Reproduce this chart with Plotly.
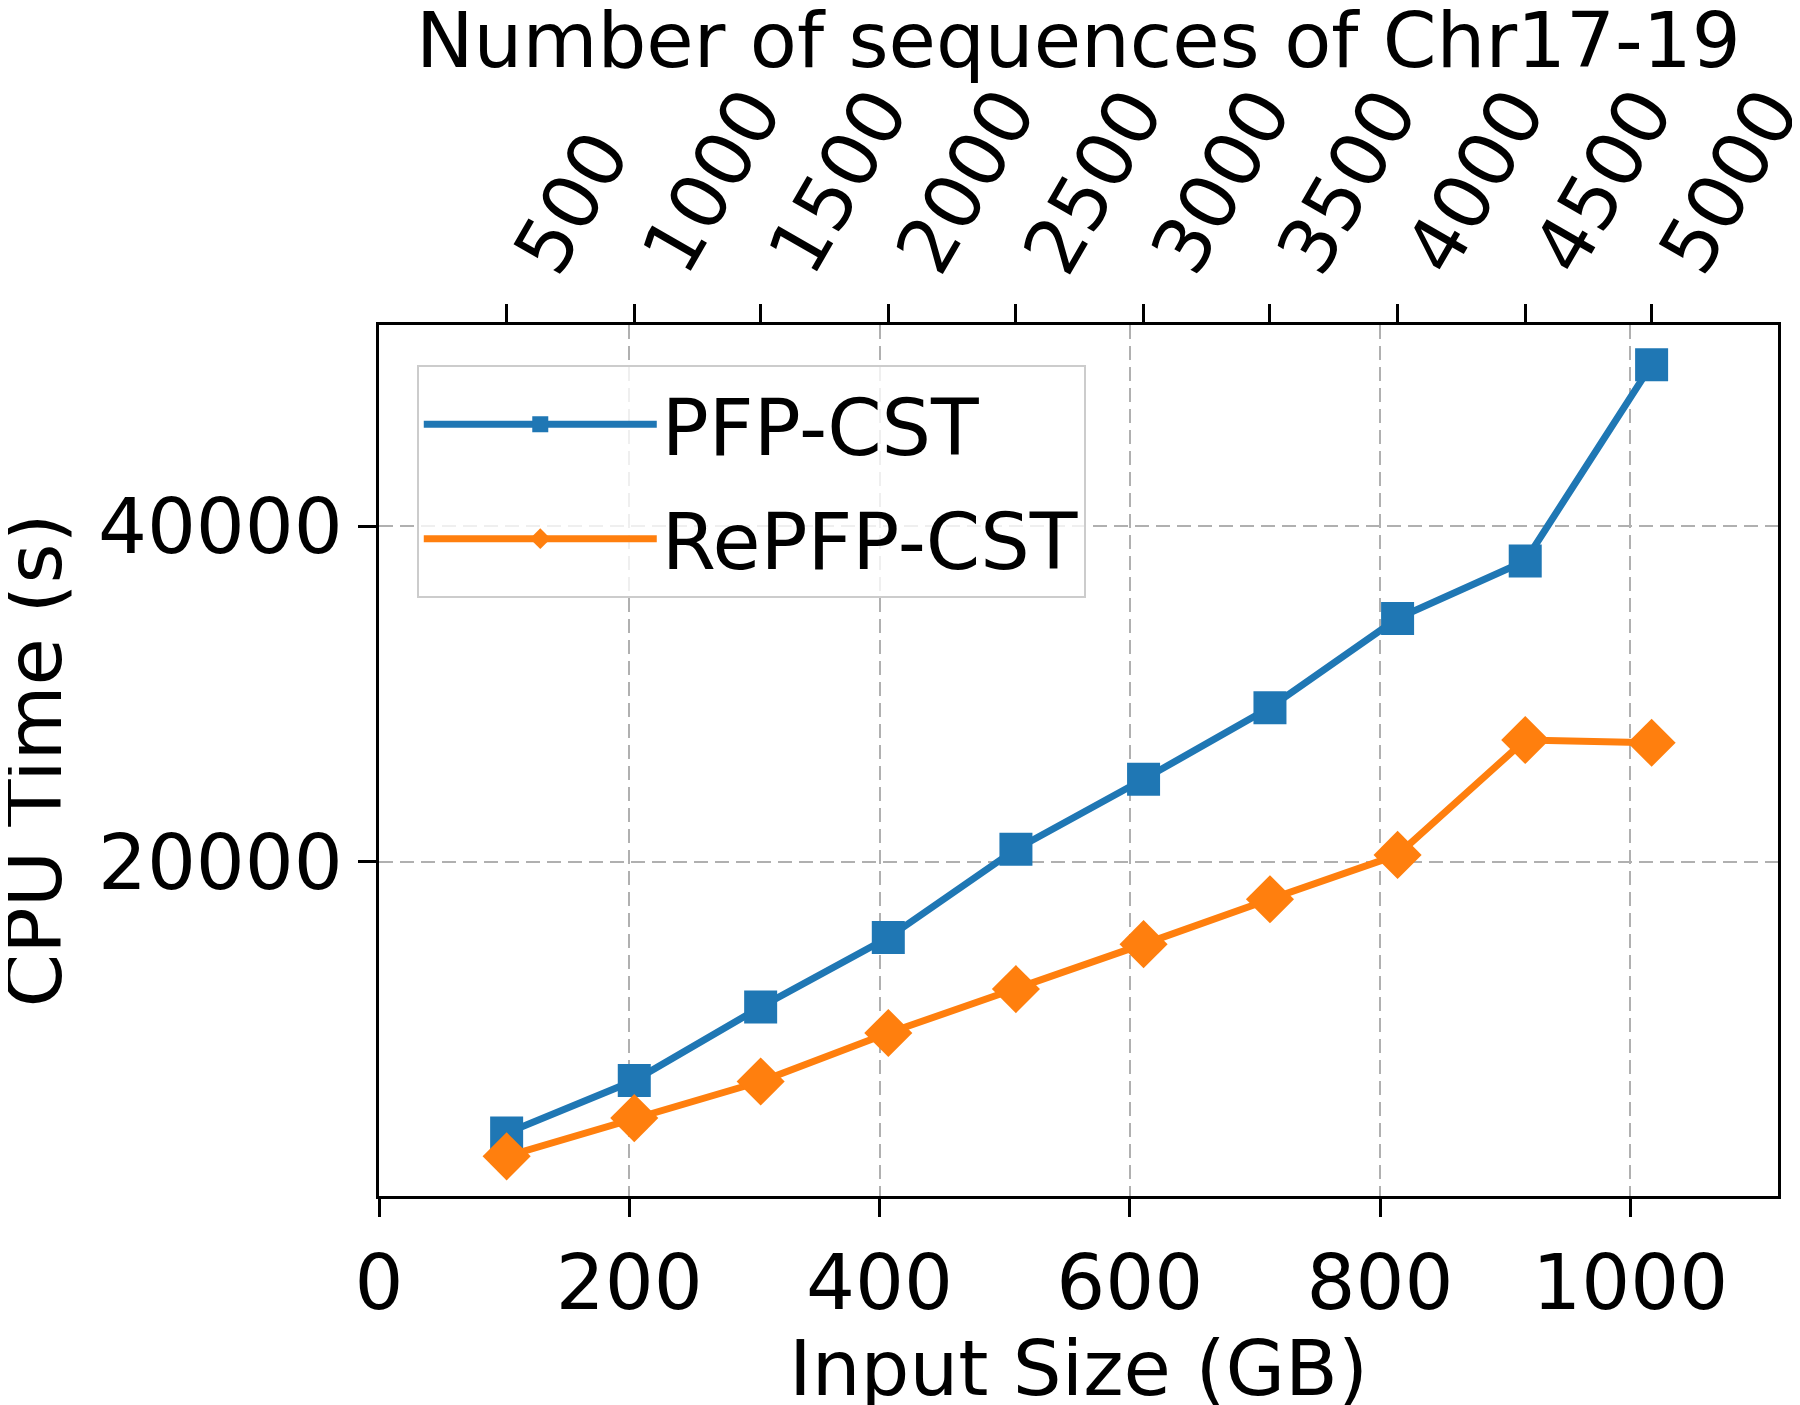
import plotly.graph_objects as go

# ---- data ----
input_size_gb = [102, 204, 305, 407, 509, 611, 712, 814, 916, 1017]
num_sequences = [500, 1000, 1500, 2000, 2500, 3000, 3500, 4000, 4500, 5000]
pfp_cst = [3820, 6950, 11330, 15470, 20740, 24910, 29180, 34500, 37930, 49630]
repfp_cst = [2430, 4710, 6890, 9780, 12400, 15080, 17760, 20400, 27250, 27090]
x_ticks = [0, 200, 400, 600, 800, 1000]
y_ticks = [20000, 40000]

FONT = "DejaVu Sans"
BLUE = "#1f77b4"
ORANGE = "#ff7f0e"
X_RANGE = [0, 1118]
Y_RANGE = [65, 51994]
FS = 77

fig = go.Figure()
fig.add_trace(go.Scatter(
    x=input_size_gb, y=pfp_cst, name="PFP-CST", mode="lines+markers",
    line=dict(color=BLUE, width=7),
    marker=dict(symbol="square", size=33, color=BLUE),
    legendgroup="a",
))
fig.add_trace(go.Scatter(
    x=input_size_gb, y=repfp_cst, name="RePFP-CST", mode="lines+markers",
    line=dict(color=ORANGE, width=7),
    marker=dict(symbol="diamond", size=37, color=ORANGE),
    legendgroup="b",
))
# invisible trace to activate the top axis
fig.add_trace(go.Scatter(
    x=input_size_gb, y=pfp_cst, xaxis="x2", mode="markers",
    marker=dict(opacity=0), showlegend=False, hoverinfo="skip",
))

axis_common = dict(
    showline=True, linecolor="black", linewidth=2.5,
    ticks="outside", ticklen=18, tickwidth=2.5, tickcolor="black",
    tickfont=dict(family=FONT, size=FS, color="black"),
    zeroline=False, automargin=False,
)
GRID = dict(showgrid=True, gridcolor="#b0b0b0", gridwidth=2, griddash="14px,7px")

# top-axis tick labels, rotated, placed at the top axis tick positions
annotations = [
    dict(x=gb, y=1, xref="x2", yref="paper", text=str(n), showarrow=False,
         textangle=-60, xanchor="left", yanchor="bottom", xshift=-13, yshift=34,
         font=dict(family=FONT, size=FS, color="black"))
    for gb, n in zip(input_size_gb, num_sequences)
]
annotations.append(dict(
    x=0.5, y=1, xref="paper", yref="paper", text="Number of sequences of Chr17-19",
    showarrow=False, xanchor="center", yanchor="middle", yshift=285,
    font=dict(family=FONT, size=FS, color="black")))
annotations.append(dict(
    x=0, y=0.5, xref="paper", yref="paper", text="CPU Time (s)",
    showarrow=False, textangle=-90, xanchor="center", yanchor="middle", xshift=-345,
    font=dict(family=FONT, size=FS, color="black")))

fig.update_layout(
    width=1800, height=1405,
    margin=dict(l=371, r=30, t=317, b=217, autoexpand=False),
    paper_bgcolor="white", plot_bgcolor="white",
    font=dict(family=FONT, color="black"),
    xaxis=dict(
        **axis_common, **GRID, mirror=True, range=X_RANGE,
        tickvals=x_ticks,
        title=dict(text="Input Size (GB)", font=dict(family=FONT, size=FS), standoff=18),
    ),
    xaxis2=dict(
        **axis_common, overlaying="x", side="top", range=X_RANGE,
        tickvals=input_size_gb, showticklabels=False, showgrid=False,
    ),
    yaxis=dict(
        **axis_common, **GRID, mirror=True, range=Y_RANGE,
        tickvals=y_ticks, ticktext=[str(v) for v in y_ticks],
    ),
    legend=dict(
        x=0.027, y=0.954, xanchor="left", yanchor="top",
        bgcolor="rgba(255,255,255,0.8)", bordercolor="#cccccc", borderwidth=2,
        font=dict(family=FONT, size=78, color="black"),
        itemwidth=233, tracegroupgap=10,
    ),
    annotations=annotations,
    showlegend=True,
)

fig.write_html("out.html")
